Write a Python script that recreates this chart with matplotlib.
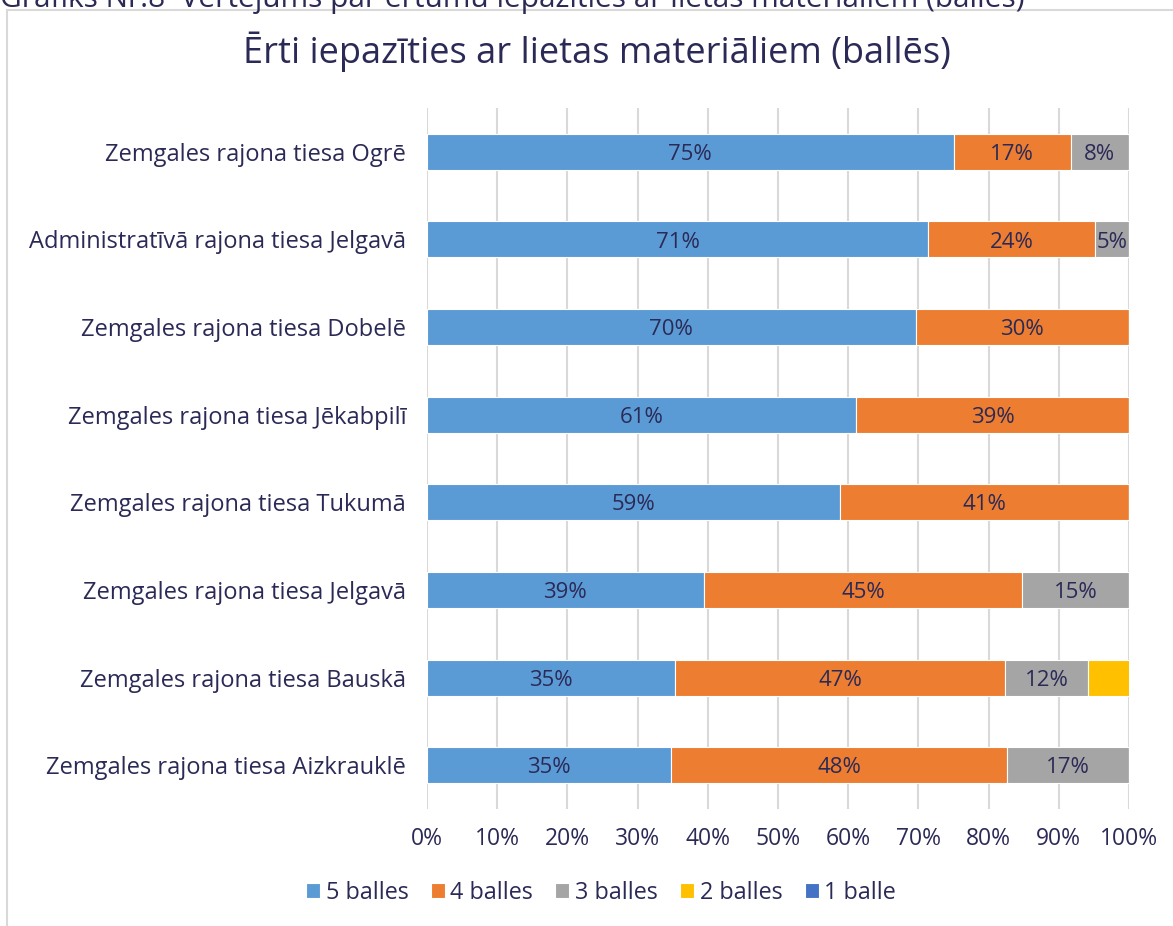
import numpy as np
import matplotlib.pyplot as plt
from matplotlib.patches import Rectangle

plt.rcParams['font.family'] = ['Open Sans', 'DejaVu Sans']

courts = ['Zemgales rajona tiesa Ogrē',
          'Administratīvā rajona tiesa Jelgavā',
          'Zemgales rajona tiesa Dobelē',
          'Zemgales rajona tiesa Jēkabpilī',
          'Zemgales rajona tiesa Tukumā',
          'Zemgales rajona tiesa Jelgavā',
          'Zemgales rajona tiesa Bauskā',
          'Zemgales rajona tiesa Aizkrauklē']
b5 = [75.0, 71.4, 69.6, 61.1, 58.8, 39.4, 35.3, 34.8]
b4 = [16.7, 23.8, 30.4, 38.9, 41.2, 45.4, 47.1, 47.8]
b3 = [8.3, 4.8, 0, 0, 0, 15.2, 11.8, 17.4]
b2 = [0, 0, 0, 0, 0, 0, 5.9, 0]
b1 = [0, 0, 0, 0, 0, 0, 0, 0]
series = ['5 balles', '4 balles', '3 balles', '2 balles', '1 balle']
colors = ['#5B9BD5', '#ED7D31', '#A5A5A5', '#FFC000', '#4472C4']
show_labels = [True, True, True, False, False]
txt = '#2B2A57'

fig = plt.figure(figsize=(11.73, 9.26), dpi=100)
ax = fig.add_axes([0.364, 0.1263, 0.5985, 0.7571])

y = np.arange(len(courts))
left = np.zeros(len(courts))
for vals, name, c, lab in zip([b5, b4, b3, b2, b1], series, colors, show_labels):
    vals = np.array(vals)
    bars = ax.barh(y, vals, left=left, height=0.41, color=c, label=name,
                   edgecolor='white', linewidth=0.8, zorder=3)
    if lab:
        for b, v in zip(bars, vals):
            if v > 0:
                ax.text(b.get_x() + b.get_width() / 2, b.get_y() + b.get_height() / 2 + 0.03,
                        '%d%%' % round(v), ha='center', va='center',
                        fontsize=16, color=txt, zorder=4)
    left += vals

ax.set_ylim(len(courts) - 0.5, -0.5)
ax.set_xlim(0, 100)
ax.set_yticks(y)
ax.set_yticklabels(courts, fontsize=17, color=txt)
ax.set_xticks(np.arange(0, 101, 10))
ax.set_xticklabels(['%d%%' % v for v in range(0, 101, 10)], fontsize=16.5, color=txt)
ax.tick_params(length=0)
ax.tick_params(axis='y', pad=15)
ax.tick_params(axis='x', pad=13)
for s in ax.spines.values():
    s.set_visible(False)
ax.grid(axis='x', color='#D9D9D9', linewidth=1.5, zorder=0)

fig.text(597 / 1173, 1 - 52 / 926, 'Ērti iepazīties ar lietas materiāliem (ballēs)',
         fontsize=26, color=txt, ha='center', va='center')

fig.text(0.0, 1.0, 'Grafiks Nr.8  Vērtējums par ērtumu iepazīties ar lietas materiāliem (balles)',
         fontsize=21.5, color=txt, ha='left', va='center')
fig.patches.append(Rectangle((7 / 1173, -0.1), 1.2, 1.1 - 10 / 926, transform=fig.transFigure,
                             fill=False, edgecolor='#D9D9D9', linewidth=1.5))

fig.legend(loc='center', bbox_to_anchor=(601 / 1173, 1 - 893 / 926), ncol=5,
           frameon=False, fontsize=16.8, labelcolor=txt, handlelength=0.6,
           handleheight=0.6, handletextpad=0.25, columnspacing=0.95)

fig.savefig('out.png', dpi=100)
